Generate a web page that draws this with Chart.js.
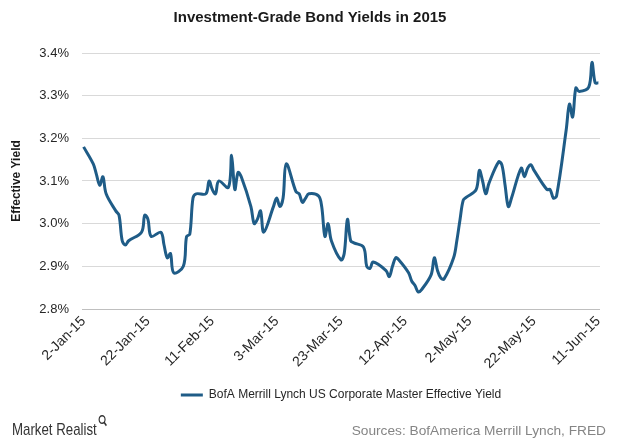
<!DOCTYPE html>
<html>
<head>
<meta charset="utf-8">
<script src="https://cdn.jsdelivr.net/npm/chart.js@4.4.1/dist/chart.umd.min.js"></script>
<style>
html,body{margin:0;padding:0;background:#ffffff;}
#wrap{position:relative;width:620px;height:443px;overflow:hidden;background:#fff;}
#c{position:absolute;left:0;top:0;}
.brand{position:absolute;left:12px;top:420px;font-family:'Liberation Sans',Arial,sans-serif;font-size:17px;color:#333333;white-space:nowrap;transform:scaleX(0.78);transform-origin:0 0;}
.brand svg{position:relative;top:-8px;left:1px;}
.src{position:absolute;right:14px;top:423px;font-family:'Liberation Sans',Arial,sans-serif;font-size:13.7px;color:#858585;white-space:nowrap;}
</style>
</head>
<body>
<div id="wrap">
<canvas id="c" width="620" height="443"></canvas>
<div class="brand">Market Realist<svg width="12" height="13" viewBox="0 0 12 13"><circle cx="5.5" cy="5.5" r="3.8" fill="none" stroke="#333" stroke-width="1.5"/><line x1="8" y1="8.2" x2="11" y2="11.6" stroke="#333" stroke-width="1.8"/></svg></div>
<div class="src">Sources: BofAmerica Merrill Lynch, FRED</div>
</div>
<script>
// ---- Data ----
const chartTitle = 'Investment-Grade Bond Yields in 2015';
const seriesName = 'BofA Merrill Lynch US Corporate Master Effective Yield';
const yAxisTitle = 'Effective Yield';

const dates = [
  '2015-01-02','2015-01-05','2015-01-06','2015-01-07','2015-01-08','2015-01-09',
  '2015-01-12','2015-01-13','2015-01-14','2015-01-15','2015-01-16',
  '2015-01-20','2015-01-21','2015-01-22','2015-01-23',
  '2015-01-26','2015-01-27','2015-01-28','2015-01-29','2015-01-30',
  '2015-02-02','2015-02-03','2015-02-04','2015-02-05','2015-02-06',
  '2015-02-09','2015-02-10','2015-02-11','2015-02-12','2015-02-13',
  '2015-02-16','2015-02-17','2015-02-18','2015-02-19','2015-02-20',
  '2015-02-23','2015-02-24','2015-02-25','2015-02-26','2015-02-27',
  '2015-03-02','2015-03-03','2015-03-04','2015-03-05','2015-03-06',
  '2015-03-09','2015-03-10','2015-03-11','2015-03-12','2015-03-13',
  '2015-03-16','2015-03-17','2015-03-18','2015-03-19','2015-03-20',
  '2015-03-23','2015-03-24','2015-03-25','2015-03-26','2015-03-27',
  '2015-03-30','2015-03-31','2015-04-01','2015-04-02',
  '2015-04-06','2015-04-07','2015-04-08','2015-04-09','2015-04-10',
  '2015-04-13','2015-04-14','2015-04-15','2015-04-16','2015-04-17',
  '2015-04-20','2015-04-21','2015-04-22','2015-04-23','2015-04-24',
  '2015-04-27','2015-04-28','2015-04-29','2015-04-30','2015-05-01',
  '2015-05-04','2015-05-05','2015-05-06','2015-05-07','2015-05-08',
  '2015-05-11','2015-05-12','2015-05-13','2015-05-14','2015-05-15',
  '2015-05-18','2015-05-19','2015-05-20','2015-05-21','2015-05-22',
  '2015-05-26','2015-05-27','2015-05-28','2015-05-29',
  '2015-06-01','2015-06-02','2015-06-03','2015-06-04','2015-06-05',
  '2015-06-08','2015-06-09','2015-06-10','2015-06-11'
];

const yields = [
  3.18, 3.14, 3.115, 3.09, 3.11, 3.07,
  3.03, 3.02, 2.96, 2.95, 2.96,
  2.98, 3.02, 3.01, 2.97,
  2.98, 2.95, 2.92, 2.93, 2.885,
  2.90, 2.97, 2.975, 3.06, 3.07,
  3.07, 3.10, 3.08, 3.07, 3.10,
  3.085, 3.16, 3.08, 3.12, 3.11,
  3.04, 3.00, 3.01, 3.03, 2.98,
  3.04, 3.06, 3.04, 3.06, 3.14,
  3.075, 3.07, 3.05, 3.06, 3.07,
  3.065, 3.04, 2.97, 3.00, 2.96,
  2.915, 2.93, 3.01, 2.96, 2.955,
  2.945, 2.90, 2.895, 2.91,
  2.89, 2.876, 2.90, 2.92, 2.915,
  2.885, 2.865, 2.855, 2.84, 2.845,
  2.88, 2.92, 2.89, 2.873, 2.87,
  2.92, 2.96, 3.01, 3.055, 3.062,
  3.08, 3.125, 3.10, 3.07, 3.095,
  3.145, 3.138, 3.09, 3.04, 3.06,
  3.13, 3.11, 3.13, 3.138, 3.125,
  3.08, 3.08, 3.06, 3.065,
  3.22, 3.28, 3.25, 3.318, 3.31,
  3.32, 3.378, 3.33, 3.33
];

const xTickLabels = ['2-Jan-15','22-Jan-15','11-Feb-15','3-Mar-15','23-Mar-15','12-Apr-15','2-May-15','22-May-15','11-Jun-15'];
const yTickValues = [2.8, 2.9, 3.0, 3.1, 3.2, 3.3, 3.4];

// ---- helpers ----
const MONTHS = {Jan:0,Feb:1,Mar:2,Apr:3,May:4,Jun:5,Jul:6,Aug:7,Sep:8,Oct:9,Nov:10,Dec:11};
const BASE = Date.UTC(2015, 0, 2);
function isoToDay(s){ const p = s.split('-').map(Number); return (Date.UTC(p[0], p[1]-1, p[2]) - BASE) / 86400000; }
function labelToDay(l){ const p = l.split('-'); return (Date.UTC(2000 + Number(p[2]), MONTHS[p[1]], Number(p[0])) - BASE) / 86400000; }
const xTickDays = xTickLabels.map(labelToDay);
const points = dates.map((d, i) => ({x: isoToDay(d), y: yields[i]}));

const FONT = "'Liberation Sans', Arial, Helvetica, sans-serif";
Chart.defaults.font.family = FONT;
Chart.defaults.color = '#262626';
const lineColor = '#1f5c87';

// centre the title on the canvas and the legend on the plot area, as in the reference
const centerBoxes = {
  id: 'centerBoxes',
  afterLayout(chart) {
    const ca = chart.chartArea;
    const lg = chart.legend;
    if (lg) {
      const shift = (ca.left + ca.right) / 2 - (lg.left + lg.right) / 2;
      lg.left += shift; lg.right += shift;
    }
    const tb = chart.titleBlock;
    if (tb) { tb.left = 0; tb.right = chart.width; tb.width = chart.width; }
  }
};

new Chart(document.getElementById('c'), {
  type: 'line',
  data: {
    datasets: [{
      label: seriesName,
      data: points,
      borderColor: lineColor,
      backgroundColor: lineColor,
      borderWidth: 3,
      pointRadius: 0,
      tension: 0.35,
      fill: false
    }]
  },
  plugins: [centerBoxes],
  options: {
    responsive: false,
    animation: false,
    devicePixelRatio: 1,
    layout: { padding: { left: 0, right: 20, top: 0, bottom: 32 } },
    plugins: {
      title: {
        display: true,
        text: chartTitle,
        font: { family: FONT, size: 15, weight: 'bold' },
        color: '#1a1a1a',
        padding: { top: 9, bottom: 26 }
      },
      legend: {
        display: true,
        position: 'bottom',
        labels: {
          boxWidth: 22,
          boxHeight: 3,
          padding: 10,
          font: { family: FONT, size: 12 },
          color: '#262626',
          generateLabels: (chart) => chart.data.datasets.map((ds, i) => ({
            text: ds.label, fillStyle: ds.borderColor, strokeStyle: ds.borderColor,
            lineWidth: 0, hidden: false, datasetIndex: i, fontColor: '#262626'
          }))
        }
      },
      tooltip: { enabled: false }
    },
    scales: {
      x: {
        type: 'linear',
        min: -0.5,
        max: 160.5,
        afterBuildTicks: (axis) => { axis.ticks = xTickDays.map(v => ({ value: v })); },
        afterFit: (s) => { s.height = 70; },
        grid: { display: false, drawTicks: false },
        border: { display: false },
        ticks: {
          autoSkip: false,
          minRotation: 45,
          maxRotation: 45,
          padding: 4,
          font: { family: FONT, size: 14 },
          color: '#262626',
          callback: (v) => { const i = xTickDays.indexOf(v); return i >= 0 ? xTickLabels[i] : ''; }
        }
      },
      y: {
        type: 'linear',
        min: 2.8,
        max: 3.4,
        afterBuildTicks: (axis) => { axis.ticks = yTickValues.map(v => ({ value: v })); },
        afterFit: (s) => { s.width = 82; },
        grid: {
          drawTicks: false,
          color: (ctx) => (ctx.tick && Math.abs(ctx.tick.value - 2.8) < 1e-9) ? '#bfbfbf' : '#d9d9d9',
          lineWidth: 1
        },
        border: { display: false },
        title: {
          display: true,
          text: yAxisTitle,
          font: { family: FONT, size: 12, weight: 'bold' },
          color: '#1a1a1a',
          padding: { top: 9, bottom: 0 }
        },
        ticks: {
          padding: 13,
          font: { family: FONT, size: 13 },
          color: '#262626',
          callback: (v) => Number(v).toFixed(1) + '%'
        }
      }
    }
  }
});
</script>
</body>
</html>
